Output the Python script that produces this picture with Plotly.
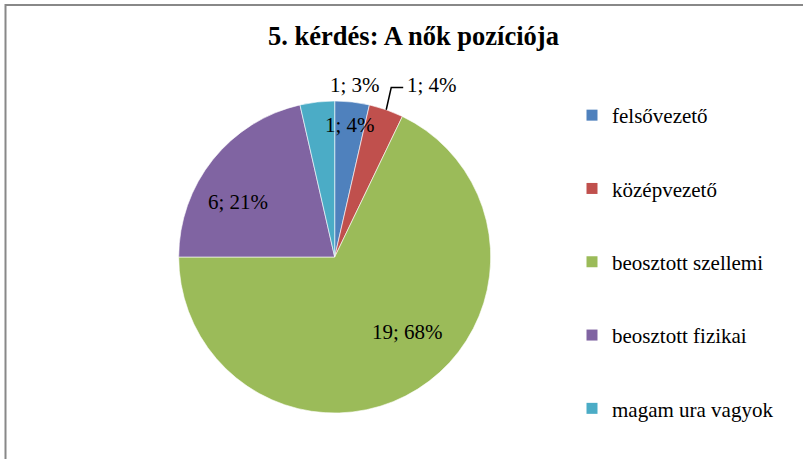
import math
import plotly.graph_objects as go

# ---- data ----
categories = ["felsővezető", "középvezető", "beosztott szellemi", "beosztott fizikai", "magam ura vagyok"]
counts = [1, 1, 19, 6, 1]
percent_labels = ["3%", "4%", "68%", "21%", "4%"]
colors = ["#4F81BD", "#C0504D", "#9BBB59", "#8064A2", "#4BACC6"]
title_text = "5. kérdés: A nők pozíciója"

W, H = 803, 459
FONT = "Liberation Serif"

# pie geometry (pixels)
CX, CY, R = 334.7, 257.0, 156.0


def px(x):
    return x / W


def py(y):
    return 1 - y / H


fig = go.Figure()
fig.add_trace(go.Pie(
    labels=categories, values=counts, sort=False, direction="clockwise", rotation=0,
    marker=dict(colors=colors, line=dict(color="white", width=0.6)),
    textinfo="none", hoverinfo="skip", showlegend=False,
    domain=dict(x=[px(CX - R), px(CX + R)], y=[py(CY + R), py(CY - R)]),
))

# legend entries
for cat, col in zip(categories, colors):
    fig.add_trace(go.Scatter(
        x=[None], y=[None], mode="markers", name=cat, legendgroup=cat,
        marker=dict(symbol="square", size=11, color=col, line=dict(width=0)),
        hoverinfo="skip",
    ))

# data labels computed from slice angles
total = sum(counts)
cum = 0
mids = []
for v in counts:
    mids.append((cum + v / 2) / total * 360)
    cum += v

# per-label placement in slice order: (radius factor, angular shift in degrees)
placement = [(1.11, 0.3), (1.27, 10.2), (0.67, -12.2), (0.71, -9.0), (0.85, 13.0)]

annotations = []
for i, (v, p) in enumerate(zip(counts, percent_labels)):
    rf, dth = placement[i]
    th = math.radians(mids[i] + dth)
    lx = CX + rf * R * math.sin(th)
    ly = CY - rf * R * math.cos(th)
    annotations.append(dict(
        x=px(lx), y=py(ly), xref="paper", yref="paper", text=f"{v}; {p}",
        showarrow=False, font=dict(family=FONT, size=21, color="black"),
        xanchor="center", yanchor="middle",
    ))

shapes = []
# leader line for the second slice
th = math.radians(mids[1])
sx, sy = CX + R * math.sin(th), CY - R * math.cos(th)
lab_r, lab_d = placement[1]
lt = math.radians(mids[1] + lab_d)
lab_x = CX + lab_r * R * math.sin(lt)
lab_y = CY - lab_r * R * math.cos(lt)
ex, ey = lab_x - 29, lab_y + 3
bx = sx + 5
shapes.append(dict(
    type="path", xref="paper", yref="paper",
    path=f"M {px(sx)} {py(sy)} L {px(bx)} {py(ey)} L {px(ex)} {py(ey)}",
    line=dict(color="black", width=1.5),
))

# outer chart frame
shapes.append(dict(
    type="rect", xref="paper", yref="paper",
    x0=px(5.5), x1=1.05, y0=-0.05, y1=py(5),
    line=dict(color="#888888", width=2), fillcolor="rgba(0,0,0,0)", layer="below",
))

fig.update_layout(
    width=W, height=H, autosize=False,
    margin=dict(l=0, r=0, t=0, b=0),
    font=dict(family=FONT, size=21, color="black"),
    paper_bgcolor="white", plot_bgcolor="white",
    title=dict(text=f"<b>{title_text}</b>", x=px(413.5), y=py(36), xanchor="center",
               yanchor="middle", xref="paper", yref="paper",
               font=dict(family=FONT, size=26.5, color="black")),
    xaxis=dict(visible=False), yaxis=dict(visible=False),
    legend=dict(x=px(572), y=py(95), xanchor="left", yanchor="top",
                traceorder="grouped", tracegroupgap=43,
                font=dict(family=FONT, size=21, color="black"),
                bgcolor="rgba(0,0,0,0)", borderwidth=0),
    annotations=annotations, shapes=shapes,
)

fig.write_html(
    "out.html",
    config={"displayModeBar": False},
    post_script="document.body.style.margin='0';document.body.style.overflow='hidden';",
)
